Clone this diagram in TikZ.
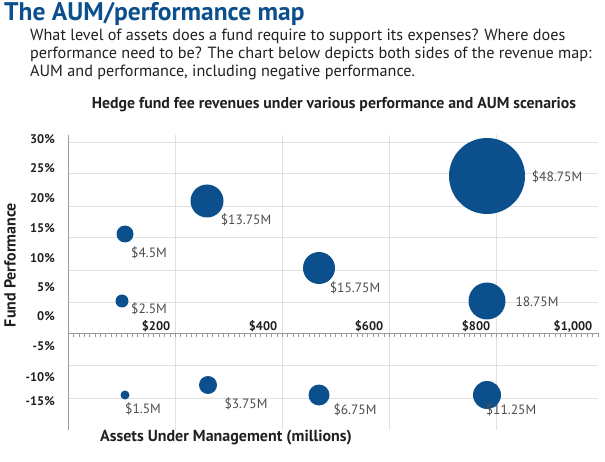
\documentclass[tikz,border=0pt]{standalone}
\usepackage{fontspec}
\setmainfont{PT Sans}
\definecolor{bub}{HTML}{0B4F8C}
\definecolor{txt}{HTML}{231F20}
\definecolor{lab}{HTML}{4D4D4D}
\begin{document}
\begin{tikzpicture}[x=1pt,y=-1pt,
  bubble/.style={fill=bub,draw=none},
  blab/.style={text=lab,font=\fontsize{13.5}{14}\selectfont,inner sep=0pt},
  ylab/.style={text=txt,font=\bfseries\fontsize{12.5}{14}\selectfont,inner sep=0pt,anchor=east},
  xlab/.style={text=txt,font=\bfseries\fontsize{12.5}{14}\selectfont,inner sep=0pt},
  grid/.style={draw=black!12,line width=0.6pt}]
\useasboundingbox (0,0) rectangle (605,462);
\node[anchor=west,inner sep=0pt,text=bub,font=\bfseries\fontsize{25.5}{26}\selectfont] (title) at (4,14) {The AUM/performance map};
\node[anchor=north west,inner sep=0pt,text=txt,font=\fontsize{16.2}{18}\selectfont,align=left] (para) at (30,29)
 {What level of assets does a fund require to support its expenses? Where does\\performance need to be? The chart below depicts both sides of the revenue map:\\AUM and performance, including negative performance.};
\node[inner sep=0pt,text=txt,font=\bfseries\fontsize{15.8}{17}\selectfont] (ctitle) at (334,105) {Hedge fund fee revenues under various performance and AUM scenarios};
% grid
\foreach \y in {142,173,206,237,270,302,365,398} \draw[grid] (68,\y) -- (598,\y);
\foreach \x in {175,282,389,496} \draw[grid] (\x,135) -- (\x,430);
\draw[black!40,line width=0.6pt] (68,135) -- (68,430);
\draw[black!40,line width=0.7pt] (68,333) -- (598,333);
\foreach \i in {0,...,99} \draw[black!40,line width=0.3pt] (68+\i*5.35,333) -- (68+\i*5.35,337);
% y labels
\foreach \y/\t in {139/30\%,168/25\%,198/20\%,228/15\%,258/10\%,287/5\%,316/0\%,346/-5\%,377/-10\%,401/-15\%}
  \node[ylab] at (55,\y) {\t};
\foreach \x/\t in {156/\$200,263/\$400,369/\$600,476/\$800,573/\$1{,}000}
  \node[xlab] at (\x,326) {\t};
% bubbles
\fill[bubble] (125,234) circle (8.5);
\fill[bubble] (122,301) circle (6.5);
\fill[bubble] (207,201) circle (16.5);
\fill[bubble] (125,395) circle (4.5);
\fill[bubble] (208,385) circle (9);
\fill[bubble] (319,268) circle (16);
\fill[bubble] (319,395) circle (10.5);
\fill[bubble] (487,176) circle (38);
\fill[bubble] (487,301) circle (18.5);
\fill[bubble] (487,395) circle (14);
\node[blab] (l1) at (149,253) {\$4.5M};
\node[blab] (l2) at (149,309) {\$2.5M};
\node[blab] (l3) at (246,220) {\$13.75M};
\node[blab] (l4) at (143,409) {\$1.5M};
\node[blab] (l5) at (246,404) {\$3.75M};
\node[blab] (l6) at (355,288) {\$15.75M};
\node[blab] (l7) at (355,410) {\$6.75M};
\node[blab] (l8) at (557,177) {\$48.75M};
\node[blab] (l9) at (537,302) {18.75M};
\node[blab] (l10) at (511,410) {\$11.25M};
\node[inner sep=0pt,text=txt,font=\bfseries\fontsize{16}{17}\selectfont] (xt) at (226,438) {Assets Under Management (millions)};
\node[inner sep=0pt,text=txt,font=\bfseries\fontsize{16}{17}\selectfont,rotate=90] (yt) at (10,265) {Fund Performance};
\end{tikzpicture}
\end{document}
